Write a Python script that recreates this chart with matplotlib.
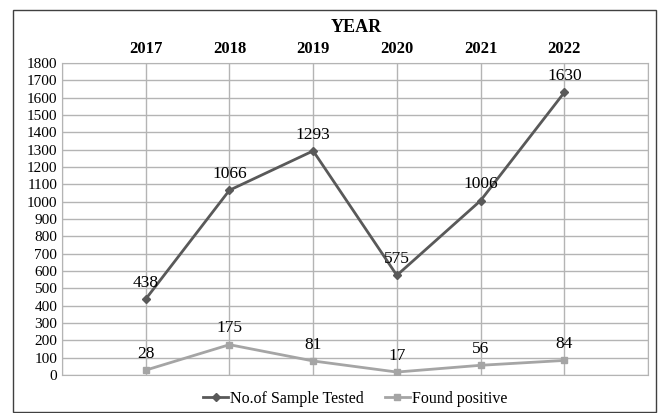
import matplotlib.pyplot as plt
from matplotlib.patches import Rectangle

years = ['2017', '2018', '2019', '2020', '2021', '2022']
tested = [438, 1066, 1293, 575, 1006, 1630]
positive = [28, 175, 81, 17, 56, 84]

plt.rcParams['font.family'] = ['Liberation Serif', 'DejaVu Serif']

fig = plt.figure(figsize=(6.59, 4.13), dpi=100)
ax = fig.add_axes([62 / 659, 1 - 375 / 413, 586 / 659, 312 / 413])

x = list(range(1, len(years) + 1))
ax.plot(x, tested, color='#595959', lw=2, marker='D', ms=4, label='No.of Sample Tested', zorder=3)
ax.plot(x, positive, color='#a5a5a5', lw=2, marker='s', ms=5, label='Found positive', zorder=3)

for xi, v in zip(x, tested):
    ax.annotate(str(v), (xi, v), xytext=(0, 6), textcoords='offset points',
                ha='center', va='bottom', fontsize=12.5)
for xi, v in zip(x, positive):
    ax.annotate(str(v), (xi, v), xytext=(0, 6), textcoords='offset points',
                ha='center', va='bottom', fontsize=12.5)

ax.set_xlim(0, 7)
ax.set_ylim(0, 1800)
ax.set_yticks(range(0, 1801, 100))
ax.set_xticks(x)
ax.set_xticklabels(years, fontweight='bold', fontsize=12)
ax.xaxis.tick_top()
ax.tick_params(axis='both', length=0, labelsize=11)
ax.tick_params(axis='x', pad=4, labelsize=12)
ax.set_xticks(range(0, 8), minor=True)
ax.grid(True, which='major', axis='y', color='#b4b4b4', lw=1)
ax.grid(True, which='minor', axis='x', color='#b4b4b4', lw=1)
ax.grid(True, which='major', axis='x', color='#b4b4b4', lw=1)
ax.tick_params(axis='x', which='minor', length=0)
for s in ax.spines.values():
    s.set_color('#b4b4b4')

fig.text(356 / 659, 1 - 27 / 413, 'YEAR', ha='center', va='center', fontweight='bold', fontsize=13)

ax.legend(loc='upper center', bbox_to_anchor=(0.5, -0.005), ncol=2, frameon=False,
          fontsize=11.5, handlelength=1.6, handletextpad=0.1, columnspacing=1.3)

fig.patches.append(Rectangle((13 / 659, 0.002), 643 / 659, 1 - 10 / 413 - 0.002,
                             transform=fig.transFigure, fill=False, ec='#404040', lw=1))

fig.savefig('out.png', dpi=100)
